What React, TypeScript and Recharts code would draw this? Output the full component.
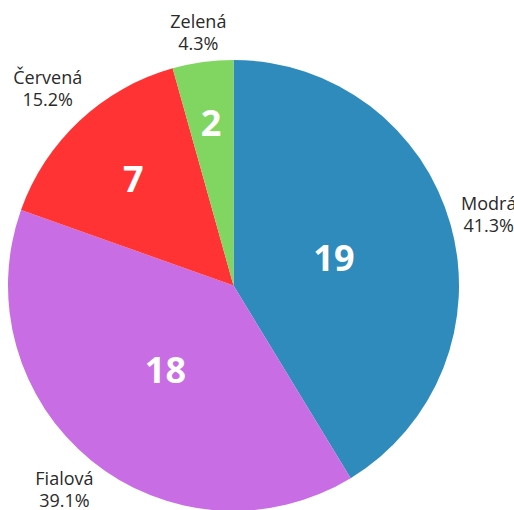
import { PieChart, Pie, Cell } from "recharts";

const names = ["Modrá", "Fialová", "Červená", "Zelená"];
const values = [19, 18, 7, 2];
const colors = ["#2E8BBB", "#C86DE4", "#FF3333", "#80D660"];

const data = names.map((name, i) => ({ name, value: values[i] }));

const RAD = Math.PI / 180;
const FONT = "'Open Sans', 'Noto Sans', sans-serif";
const LABEL_SIZE = 18;
const VALUE_SIZE = 36;

let ctx: CanvasRenderingContext2D | null = null;
function textWidth(s: string, font: string) {
  if (!ctx) ctx = document.createElement("canvas").getContext("2d");
  if (!ctx) return s.length * 10;
  ctx.font = font;
  return ctx.measureText(s).width;
}

function renderLabel(props: any) {
  const { cx, cy, midAngle, outerRadius, percent, name, value } = props;
  const ux = Math.cos(-midAngle * RAD);
  const uy = Math.sin(-midAngle * RAD);
  const pct = `${(percent * 100).toFixed(1)}%`;

  // outside label: push the text box just outside the circle
  const lf = `${LABEL_SIZE}px ${FONT}`;
  const w = Math.max(textWidth(name, lf), textWidth(pct, lf));
  const h = 44;
  const d = outerRadius + 3 + (w / 2) * Math.abs(ux) + (h / 2) * Math.abs(uy);
  const ox = cx + d * ux + 4 * ux;
  const oy = cy + d * uy - 1.5;

  // inside label: small slices sit further out
  const rIn = outerRadius * (0.76 - 0.72 * percent);
  const ix = cx + rIn * ux;
  const iy = cy + rIn * uy;

  return (
    <g>
      <text x={ox} y={oy - 11} textAnchor="middle" dominantBaseline="central" fontFamily={FONT} fontSize={LABEL_SIZE} fill="#2a2a2a">
        {name}
      </text>
      <text x={ox} y={oy + 11} textAnchor="middle" dominantBaseline="central" fontFamily={FONT} fontSize={LABEL_SIZE} fill="#2a2a2a">
        {pct}
      </text>
      <text x={ix} y={iy} textAnchor="middle" dominantBaseline="central" fontFamily={FONT} fontSize={VALUE_SIZE} fontWeight="bold" fill="#ffffff">
        {value}
      </text>
    </g>
  );
}

export default function App() {
  return (
    <div style={{ position: "absolute", left: 0, top: 0, width: 514, height: 510 }}>
      <PieChart width={514} height={510} margin={{ top: 0, right: 0, bottom: 0, left: 0 }}>
        <Pie
          data={data}
          dataKey="value"
          nameKey="name"
          cx={233.5}
          cy={285.5}
          outerRadius={225.5}
          startAngle={90}
          endAngle={-270}
          stroke="none"
          label={renderLabel}
          labelLine={false}
          isAnimationActive={false}
        >
          {data.map((d, i) => (
            <Cell key={d.name} fill={colors[i]} />
          ))}
        </Pie>
      </PieChart>
    </div>
  );
}
